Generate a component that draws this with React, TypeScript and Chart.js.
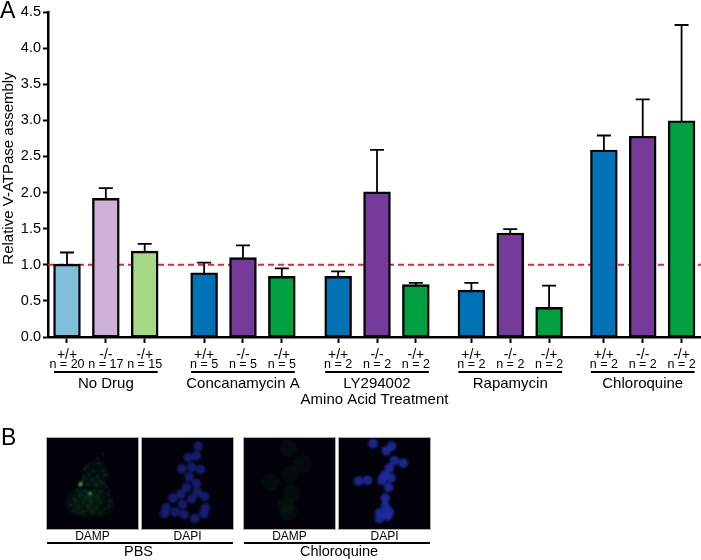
import React, { useEffect, useRef } from "react";
import { Chart, registerables } from "chart.js";

Chart.register(...registerables);

const FONT = '"Liberation Sans", Arial, sans-serif';

const groupNames = ["No Drug", "Concanamycin A", "LY294002", "Rapamycin", "Chloroquine"];
const groupStarts = [0, 3.53, 6.98, 10.41, 13.82];
const genotypes = ["+/+", "-/-", "-/+"];
const nCounts = [
  ["n = 20", "n = 17", "n = 15"],
  ["n = 5", "n = 5", "n = 5"],
  ["n = 2", "n = 2", "n = 2"],
  ["n = 2", "n = 2", "n = 2"],
  ["n = 2", "n = 2", "n = 2"],
];
const means = [
  [1.0, 1.91, 1.18],
  [0.88, 1.09, 0.83],
  [0.83, 2.0, 0.715],
  [0.64, 1.43, 0.4],
  [2.58, 2.77, 2.985],
];
const errorTops = [
  [1.17, 2.06, 1.29],
  [1.03, 1.27, 0.95],
  [0.91, 2.59, 0.75],
  [0.75, 1.495, 0.71],
  [2.79, 3.29, 4.32],
];
const lightColors = ["#80bfdc", "#cfb0d8", "#a5d986"];
const darkColors = ["#0073b6", "#763a9a", "#00a040"];
const referenceLevel = 1.0;

const nucleiPBS = [
  [63, 4], [51, 18], [61, 16], [43, 32], [55, 30], [66, 33], [52, 42], [61, 50], [49, 55], [62, 61], [42, 63],
  [71, 66], [32, 68], [55, 69], [44, 76], [24, 80], [72, 80], [22, 87], [35, 85], [46, 88], [70, 87], [59, 93],
];
const nucleiChloroquine = [
  [36, 1], [59, 4], [52, 10], [62, 22], [56, 31], [73, 25], [50, 40], [47, 46], [58, 43], [18, 47], [29, 46],
  [55, 55], [51, 68], [51, 78], [56, 85], [44, 86], [44, 93], [54, 90],
];
const specksPBS = [
  [66, 3], [58, 10], [60, 18], [42, 22], [38, 27], [52, 30], [66, 30], [45, 35], [58, 38], [70, 36], [36, 40],
  [50, 44], [63, 47], [33, 46], [28, 52], [31, 51], [42, 52], [56, 52], [68, 50], [72, 55], [25, 60], [38, 60],
  [52, 60], [62, 63], [76, 62], [46, 66], [30, 68], [40, 72], [58, 72], [74, 68], [20, 74], [24, 78], [35, 80],
  [48, 78], [64, 80], [78, 78], [15, 84], [28, 88], [42, 86], [56, 88], [70, 90], [20, 94], [34, 95], [50, 94],
  [62, 96], [76, 86],
];
const brightSpecksPBS = [[46, 66], [31, 51]];
const glowPBS = [[55, 35], [48, 60], [40, 82], [62, 82], [28, 80]];
const glowChloroquine = [[49, 2], [68, 23], [24, 48], [51, 37], [53, 63], [49, 89], [45, 80]];
const panelLabels = ["DAMP", "DAPI", "DAMP", "DAPI"];
const panelGroups = ["PBS", "Chloroquine"];
const yAxisTitle = "Relative V-ATPase assembly";

const allPositions = groupStarts.flatMap((s) => genotypes.map((_, i) => s + i));
const allMeans = means.flat();
const allTops = errorTops.flat();
const allNs = nCounts.flat();
const allColors = [...lightColors, ...darkColors, ...darkColors, ...darkColors, ...darkColors];

const overlay = {
  id: "overlay",
  beforeDatasetsDraw(chart: any) {
    const { ctx } = chart;
    ctx.save();
    ctx.fillStyle = "#000";
    ctx.textAlign = "left";
    ctx.textBaseline = "alphabetic";
    ctx.font = `23px ${FONT}`;
    ctx.fillText("A", 0, 18);
    ctx.fillText("B", 1, 445);
    ctx.translate(8.5, 168.5);
    ctx.rotate(-Math.PI / 2);
    ctx.textAlign = "center";
    ctx.textBaseline = "middle";
    ctx.font = `15px ${FONT}`;
    ctx.fillText(yAxisTitle, 0, 0);
    ctx.restore();
  },
  afterDatasetsDraw(chart: any) {
    const { ctx, scales } = chart;
    const x = scales.x;
    const y = scales.y;
    ctx.save();
    ctx.strokeStyle = "#000";
    ctx.lineWidth = 1.8;
    allPositions.forEach((p, i) => {
      const cx = x.getPixelForValue(p);
      const top = y.getPixelForValue(allTops[i]);
      const base = y.getPixelForValue(allMeans[i]);
      ctx.beginPath();
      ctx.moveTo(cx, base);
      ctx.lineTo(cx, top);
      ctx.moveTo(cx - 7, top);
      ctx.lineTo(cx + 7, top);
      ctx.stroke();
    });
    ctx.fillStyle = "#000";
    ctx.textAlign = "center";
    ctx.textBaseline = "middle";
    ctx.font = `12.5px ${FONT}`;
    allPositions.forEach((p, i) => {
      ctx.fillText(allNs[i], x.getPixelForValue(p), 364.5);
    });
    ctx.lineWidth = 2;
    groupNames.forEach((name, g) => {
      const l = x.getPixelForValue(groupStarts[g]) - 13;
      const r = x.getPixelForValue(groupStarts[g] + 2) + 13;
      ctx.beginPath();
      ctx.moveTo(l, 372);
      ctx.lineTo(r, 372);
      ctx.stroke();
      ctx.font = `15px ${FONT}`;
      ctx.fillText(name, (l + r) / 2, 383.5);
    });
    ctx.font = `12px ${FONT}`;
    [92.5, 187.5, 289.5, 384.5].forEach((cx, i) => ctx.fillText(panelLabels[i], cx, 536.5));
    ctx.beginPath();
    ctx.moveTo(47, 543);
    ctx.lineTo(233, 543);
    ctx.moveTo(244, 543);
    ctx.lineTo(430, 543);
    ctx.stroke();
    ctx.font = `14.5px ${FONT}`;
    ctx.fillText(panelGroups[0], 138.5, 552);
    ctx.fillText(panelGroups[1], 339, 552);
    ctx.restore();
  },
};

function MainChart() {
  const ref = useRef<HTMLCanvasElement>(null);
  useEffect(() => {
    const chart = new Chart(ref.current as any, {
      type: "bar",
      data: {
        datasets: [
          {
            type: "line",
            data: [
              { x: -0.489, y: referenceLevel },
              { x: 16.32, y: referenceLevel },
            ],
            borderColor: "#e8262c",
            borderWidth: 2,
            borderDash: [6, 4],
            pointRadius: 0,
            order: 2,
          },
          {
            type: "bar",
            data: allPositions.map((p, i) => ({ x: p, y: allMeans[i] })),
            backgroundColor: allColors,
            borderColor: "#000",
            borderWidth: 2.4,
            borderSkipped: false,
            inflateAmount: 1,
            barThickness: 25.5,
            order: 1,
          },
        ] as any,
      },
      options: {
        animation: false,
        responsive: false,
        devicePixelRatio: 1,
        layout: { padding: { top: 12, bottom: 151, left: 0, right: 0 } },
        plugins: { legend: { display: false }, tooltip: { enabled: false } },
        scales: {
          x: {
            type: "linear",
            min: -0.489,
            max: 16.32,
            offset: false,
            afterFit: (s: any) => {
              s.height = 72;
            },
            afterBuildTicks: (s: any) => {
              s.ticks = allPositions.map((value) => ({ value }));
            },
            grid: {
              offset: false,
              drawOnChartArea: false,
              drawTicks: true,
              tickLength: 6,
              tickWidth: 2,
              tickColor: "#000",
            },
            border: { display: true, color: "#000", width: 2.5 },
            ticks: {
              autoSkip: false,
              maxRotation: 0,
              minRotation: 0,
              padding: 4,
              color: "#000",
              font: { family: FONT, size: 14 },
              callback: (v: any) => genotypes[allPositions.indexOf(v) % 3],
            },
            title: {
              display: true,
              text: "Amino Acid Treatment",
              color: "#000",
              font: { family: FONT, size: 15 },
              padding: 0,
            },
          },
          y: {
            min: 0,
            max: 4.5,
            afterFit: (s: any) => {
              s.width = 48;
            },
            grid: { drawOnChartArea: false, drawTicks: true, tickLength: 5, tickWidth: 2, tickColor: "#000" },
            border: { display: true, color: "#000", width: 2.5 },
            ticks: {
              stepSize: 0.5,
              padding: 2,
              color: "#000",
              font: { family: FONT, size: 14.5 },
              callback: (v: any) => Number(v).toFixed(1),
            },
          },
        },
      } as any,
      plugins: [overlay],
    });
    return () => chart.destroy();
  }, []);
  return <canvas ref={ref} width={701} height={560} style={{ display: "block", position: "absolute", left: 0, top: 0 }} />;
}

function Micrograph({ left, sets }: { left: number; sets: any[] }) {
  const ref = useRef<HTMLCanvasElement>(null);
  useEffect(() => {
    const chart = new Chart(ref.current as any, {
      type: "bubble",
      data: {
        datasets: sets.map((s) => ({
          data: s.points.map((p: number[]) => ({ x: p[0], y: p[1], r: s.r })),
          backgroundColor: s.color,
          borderWidth: 0,
          clip: false,
        })),
      },
      options: {
        animation: false,
        responsive: false,
        devicePixelRatio: 1,
        layout: { padding: 0 },
        plugins: { legend: { display: false }, tooltip: { enabled: false } },
        scales: {
          x: { display: false, min: 0, max: 100 },
          y: { display: false, min: 0, max: 100, reverse: true },
        },
      } as any,
    });
    return () => chart.destroy();
  }, []);
  return (
    <div
      style={{
        position: "absolute",
        left,
        top: 438,
        width: 91,
        height: 91,
        background: "#02020a",
        outline: "1px solid #aaa",
        overflow: "hidden",
      }}
    >
      <canvas ref={ref} width={91} height={91} style={{ display: "block", filter: "blur(0.8px)" }} />
    </div>
  );
}

export default function App() {
  return (
    <div style={{ position: "absolute", left: 0, top: 0, width: 701, height: 560, background: "#fff" }}>
      <MainChart />
      <Micrograph
        left={47}
        sets={[
          { points: glowPBS, r: 14, color: "rgba(20,70,30,0.16)" },
          { points: specksPBS, r: 0.9, color: "rgba(45,150,70,0.6)" },
          { points: brightSpecksPBS, r: 1.8, color: "rgba(120,255,150,0.95)" },
        ]}
      />
      <Micrograph left={142} sets={[{ points: nucleiPBS, r: 4.8, color: "rgba(30,36,140,0.75)" }]} />
      <Micrograph left={244} sets={[{ points: glowChloroquine, r: 9, color: "rgba(15,50,25,0.2)" }]} />
      <Micrograph left={339} sets={[{ points: nucleiChloroquine, r: 4.8, color: "rgba(35,48,175,0.8)" }]} />
    </div>
  );
}
